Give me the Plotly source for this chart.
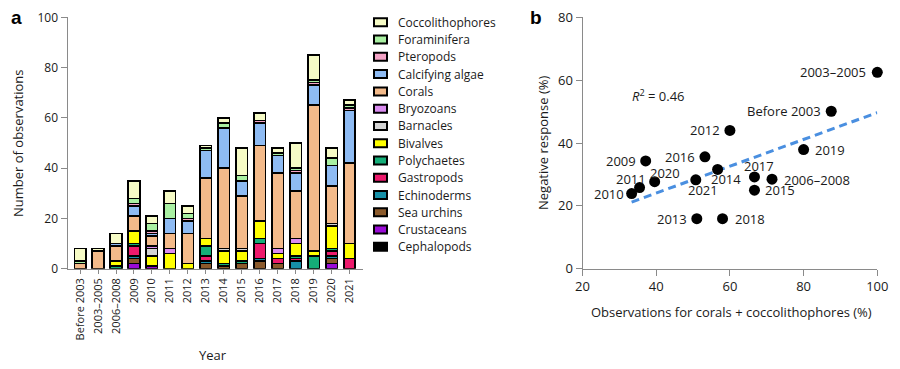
import numpy as np
import plotly.graph_objects as go

# ---------------- data ----------------
categories = ["Before 2003", "2003–2005", "2006–2008", "2009", "2010", "2011", "2012", "2013",
              "2014", "2015", "2016", "2017", "2018", "2019", "2020", "2021"]

# stacked bottom -> top
cephalopods      = [0, 0, 0, 0, 0, 0, 0, 0, 0, 0, 0, 0, 0, 0, 0, 0]
crustaceans      = [0, 0, 0, 2, 1, 0, 0, 0, 0, 0, 0, 0, 0, 0, 2, 0]
sea_urchins      = [0, 0, 0, 2, 0, 0, 0, 2, 1, 2, 3, 2, 0, 0, 2, 0]
echinoderms      = [0, 0, 0, 1, 0, 0, 0, 1, 0, 0, 1, 0, 3, 0, 1, 0]
gastropods       = [0, 0, 0, 4, 0, 0, 0, 2, 0, 0, 6, 2, 1, 0, 2, 4]
polychaetes      = [0, 0, 1, 1, 0, 0, 0, 4, 1, 1, 2, 0, 1, 5, 1, 0]
bivalves         = [0, 0, 2, 5, 4, 6, 2, 3, 5, 4, 7, 2, 5, 2, 9, 6]
barnacles        = [0, 0, 0, 0, 3, 0, 0, 0, 1, 1, 0, 0, 0, 0, 1, 0]
bryozoans        = [0, 0, 0, 0, 1, 2, 0, 0, 0, 0, 0, 2, 2, 0, 0, 0]
corals           = [2, 7, 6, 6, 4, 6, 12, 24, 32, 21, 30, 30, 19, 58, 15, 32]
calcifying_algae = [0, 0, 1, 4, 1, 6, 5, 11, 16, 6, 9, 7, 7, 8, 8, 21]
pteropods        = [0, 0, 0, 1, 1, 0, 1, 0, 0, 0, 1, 0, 1, 1, 0, 1]
foraminifera     = [1, 0, 0, 2, 3, 6, 2, 1, 2, 2, 0, 1, 1, 1, 3, 1]
coccolithophores = [5, 1, 4, 7, 3, 5, 3, 1, 2, 11, 3, 2, 10, 10, 4, 2]

# panel b: negative response (%) per period
negative_response = [50.1, 62.5, 28.5, 34.3, 23.9, 25.8, 44.0, 15.9,
                     31.6, 25.0, 35.6, 29.2, 15.9, 37.9, 27.7, 28.3]
r2_label = "0.46"

series = [
    ("Cephalopods", cephalopods, "#000000"),
    ("Crustaceans", crustaceans, "#9A0BD6"),
    ("Sea urchins", sea_urchins, "#8B5A2B"),
    ("Echinoderms", echinoderms, "#1690A8"),
    ("Gastropods", gastropods, "#EC1A6C"),
    ("Polychaetes", polychaetes, "#14AE78"),
    ("Bivalves", bivalves, "#FFFF00"),
    ("Barnacles", barnacles, "#D4D4D4"),
    ("Bryozoans", bryozoans, "#DA8CF0"),
    ("Corals", corals, "#F3BA8A"),
    ("Calcifying algae", calcifying_algae, "#8EBBF3"),
    ("Pteropods", pteropods, "#F4A3C6"),
    ("Foraminifera", foraminifera, "#A9F0A2"),
    ("Coccolithophores", coccolithophores, "#F6FBC6"),
]

# ---------------- helpers ----------------
W, H = 900, 369
FONT = "Open Sans"
TXT = "#1a1a1a"
AX = "#8a8a8a"


def fx(p):
    return p / W


def fy(p):
    return 1 - p / H


fig = go.Figure()

for name, vals, col in series:
    fig.add_trace(go.Bar(
        x=categories, y=[v if v else None for v in vals], name=name,
        marker=dict(color=col, line=dict(color="#000000", width=1.6)),
        showlegend=False, xaxis="x", yaxis="y"))

# scatter x: share of corals + coccolithophores in each period
totals = np.sum([np.array(v) for _, v, _ in series], axis=0)
share = (np.array(corals) + np.array(coccolithophores)) / totals * 100
resp = np.array(negative_response)

slope, icpt = np.polyfit(share, resp, 1)
tx = np.array([share.min(), share.max()])
fig.add_trace(go.Scatter(x=tx, y=slope * tx + icpt, mode="lines",
                         line=dict(color="#4A8FE0", width=3, dash="8px,5px"),
                         showlegend=False, xaxis="x2", yaxis="y2"))
fig.add_trace(go.Scatter(x=share, y=resp, mode="markers",
                         marker=dict(color="#000000", size=11),
                         showlegend=False, cliponaxis=False, xaxis="x2", yaxis="y2"))

# label placement (style): anchor and pixel shift per point
label_style = {
    "Before 2003": ("right", -8, 0),
    "2003–2005": ("right", -9, 0),
    "2006–2008": ("left", 10, -1),
    "2009": ("right", -8, 0),
    "2010": ("right", -6, 0),
    "2011": ("center", -9, 9),
    "2012": ("right", -8, 0),
    "2013": ("right", -8, 0),
    "2014": ("center", 8, -10),
    "2015": ("left", 9, 0),
    "2016": ("right", -8, 0),
    "2017": ("center", 5, 11),
    "2018": ("left", 10, 0),
    "2019": ("left", 9, 0),
    "2020": ("center", 10, 9),
    "2021": ("center", 7, -10),
}
annotations = []
for cat, xv, yv in zip(categories, share, resp):
    xa, dx, dy = label_style[cat]
    annotations.append(dict(x=xv, y=yv, xref="x2", yref="y2", text=cat, showarrow=False,
                            xanchor=xa, yanchor="middle", xshift=dx, yshift=dy,
                            font=dict(family=FONT, size=13, color=TXT)))

annotations.append(dict(x=33, y=55, xref="x2", yref="y2", xanchor="left", yanchor="middle",
                        text="<i>R</i><sup>2</sup> = " + r2_label, showarrow=False,
                        font=dict(family=FONT, size=13, color=TXT)))

# custom legend (top item = top of stack)
shapes = []
for i, (name, _, col) in enumerate(reversed(series)):
    yc = 22.3 + i * 17.27
    shapes.append(dict(type="rect", xref="paper", yref="paper",
                       x0=fx(374), x1=fx(387), y0=fy(yc + 4), y1=fy(yc - 4),
                       fillcolor=col, line=dict(color="#000000", width=2)))
    annotations.append(dict(x=fx(396), y=fy(yc), xref="paper", yref="paper", text=name,
                            showarrow=False, xanchor="left", yanchor="middle",
                            font=dict(family=FONT, size=12, color=TXT)))

# panel letters and axis titles
annotations += [
    dict(x=fx(9), y=fy(17), xref="paper", yref="paper", text="<b>a</b>", showarrow=False,
         xanchor="left", yanchor="middle", font=dict(family="Liberation Sans", size=19, color="#000")),
    dict(x=fx(528), y=fy(17), xref="paper", yref="paper", text="<b>b</b>", showarrow=False,
         xanchor="left", yanchor="middle", font=dict(family="Liberation Sans", size=19, color="#000")),
    dict(x=fx(18), y=fy(143), xref="paper", yref="paper", text="Number of observations",
         textangle=-90, showarrow=False, xanchor="center", yanchor="middle",
         font=dict(family=FONT, size=13, color=TXT)),
    dict(x=fx(213), y=fy(355), xref="paper", yref="paper", text="Year", showarrow=False,
         xanchor="center", yanchor="middle", font=dict(family=FONT, size=13, color=TXT)),
    dict(x=fx(543), y=fy(143), xref="paper", yref="paper", text="Negative response (%)",
         textangle=-90, showarrow=False, xanchor="center", yanchor="middle",
         font=dict(family=FONT, size=13, color=TXT)),
    dict(x=fx(731), y=fy(312), xref="paper", yref="paper",
         text="Observations for corals + coccolithophores (%)", showarrow=False,
         xanchor="center", yanchor="middle", font=dict(family=FONT, size=13, color=TXT)),
]

ydom = [fy(268.7), fy(17.3)]
axis_common = dict(showline=True, linecolor=AX, linewidth=1, ticks="outside", tickcolor=AX,
                   ticklen=6, showgrid=False, zeroline=False, automargin=False,
                   tickfont=dict(family=FONT, size=12, color=TXT))

fig.update_layout(
    width=W, height=H, margin=dict(l=0, r=0, t=0, b=0, autoexpand=False),
    paper_bgcolor="white", plot_bgcolor="white",
    barmode="stack", bargap=0.36,
    font=dict(family=FONT, color=TXT),
    xaxis=dict(domain=[fx(67.5), fx(363)], type="category", range=[-0.7, 15.75],
               tickangle=-90, anchor="y", **{**axis_common, "ticklen": 4,
                                             "tickfont": dict(family=FONT, size=11, color=TXT)}),
    yaxis=dict(domain=ydom, range=[0, 100], dtick=20, anchor="x", **axis_common),
    xaxis2=dict(domain=[fx(582.5), fx(877.3)], range=[20, 100], dtick=20, anchor="y2",
                **{**axis_common, "tickfont": dict(family=FONT, size=13, color=TXT)}),
    yaxis2=dict(domain=ydom, range=[0, 80], dtick=20, anchor="x2",
                **{**axis_common, "tickfont": dict(family=FONT, size=13, color=TXT)}),
    annotations=annotations, shapes=shapes, showlegend=False,
)

fig.write_html("out.html", config={"displayModeBar": False},
               post_script="document.body.style.margin='0';document.body.style.overflow='hidden';")
